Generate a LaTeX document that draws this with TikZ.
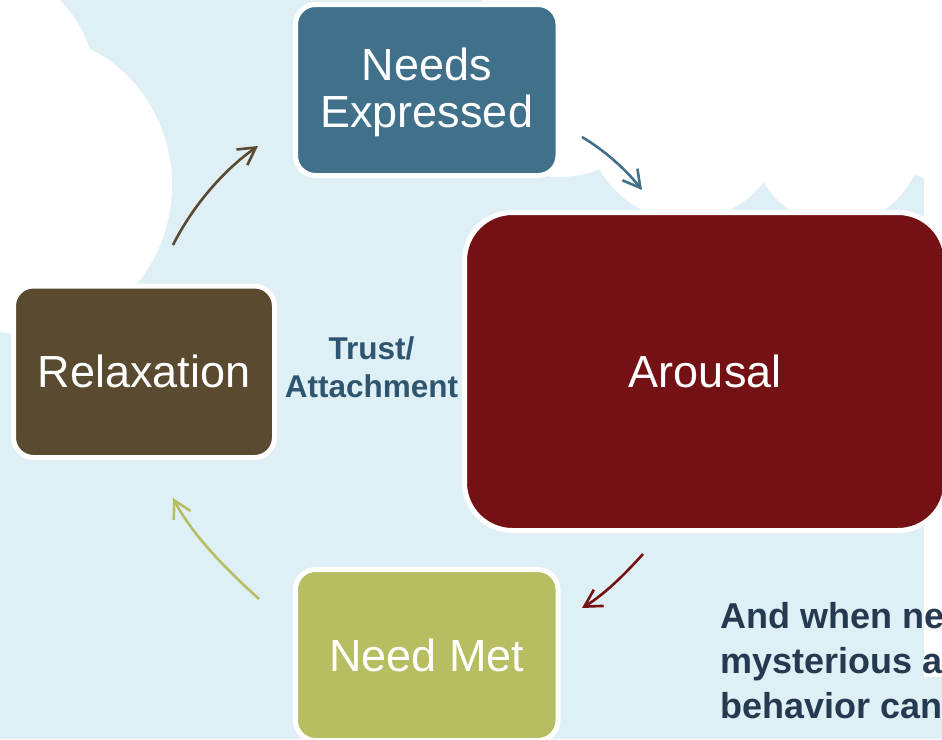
\documentclass[tikz,border=0pt]{standalone}
\usepackage{fontspec}
\setmainfont{Liberation Sans}
\usetikzlibrary{arrows.meta}

\definecolor{skyblue}{HTML}{DEF0F6}
\definecolor{needsblue}{HTML}{41718A}
\definecolor{arousalred}{HTML}{741114}
\definecolor{relaxbrown}{HTML}{594A30}
\definecolor{metgreen}{HTML}{B7BD61}
\definecolor{trustblue}{HTML}{2F556E}
\definecolor{noteblue}{HTML}{253A50}

\tikzset{
  stage/.style={rectangle, rounded corners=20pt, draw=white, line width=5pt,
    inner sep=0pt, text=white, align=center,
    font=\fontsize{45}{47}\selectfont},
  cycle arrow/.style={line width=2.6pt, -{Straight Barb[length=17pt,width=19pt]}},
  puff/.style={fill=white, draw=none}
}

\begin{document}
\begin{tikzpicture}[x=1pt,y=-1pt]
  \useasboundingbox (0,0) rectangle (942,739);
  \fill[skyblue] (0,0) rectangle (942,739);

  % white clouds, upper left
  \fill[puff] (30,185) ellipse [x radius=142, y radius=150];
  \fill[puff] (-25,85) circle [radius=120];

  % white clouds, upper right
  \fill[puff] (560,72) circle [radius=105];
  \fill[puff] (686,121) circle [radius=99];
  \fill[puff] (837,139) circle [radius=85];
  \fill[puff] (960,85) circle [radius=100];
  \fill[puff] (590,0) rectangle (942,150);
  \fill[puff] (924,0) rectangle (942,677);

  % the four stages of the cycle
  \node[stage, fill=needsblue, minimum width=262.5pt, minimum height=171pt,
    text depth=4pt]
    (needs) at (426.75,90) {Needs\\Expressed};
  \node[stage, fill=arousalred, rounded corners=48pt,
    minimum width=481.5pt, minimum height=318pt]
    (arousal) at (705.25,371.5) {Arousal};
  \node[stage, fill=relaxbrown, minimum width=261pt, minimum height=171.5pt]
    (relax) at (144,371.75) {Relaxation};
  \node[stage, fill=metgreen, minimum width=262.5pt, minimum height=171pt]
    (met) at (426.75,655) {Need Met};

  % centre label
  \node[inner sep=0pt, align=center, text=trustblue,
    font=\bfseries\fontsize{31.5}{38.5}\selectfont]
    (trust) at (371.5,367) {Trust/\\Attachment};

  % curved arrows between the stages
  \coordinate (r1) at (173,245);  \coordinate (r2) at (258,146);
  \coordinate (n1) at (582,137);  \coordinate (n2) at (642,190);
  \coordinate (a1) at (643,554);  \coordinate (a2) at (582,608);
  \coordinate (m1) at (259,599);  \coordinate (m2) at (173,498);

  \draw[cycle arrow, relaxbrown] (r1) .. controls (192,207) and (223,170.5) .. (r2);
  \draw[cycle arrow, needsblue]  (n1) .. controls (604,150) and (626,169.5) .. (n2);
  \draw[cycle arrow, arousalred] (a1) .. controls (625,574) and (605,594) .. (a2);
  \draw[cycle arrow, metgreen]   (m1) .. controls (227,570) and (193,536) .. (m2);

  % note at lower right
  \node[inner sep=0pt, anchor=north west, align=left, text=noteblue,
    font=\bfseries\fontsize{36}{45}\selectfont]
    (note) at (720,602) {And when ne\\mysterious a\\behavior can};
\end{tikzpicture}
\end{document}
